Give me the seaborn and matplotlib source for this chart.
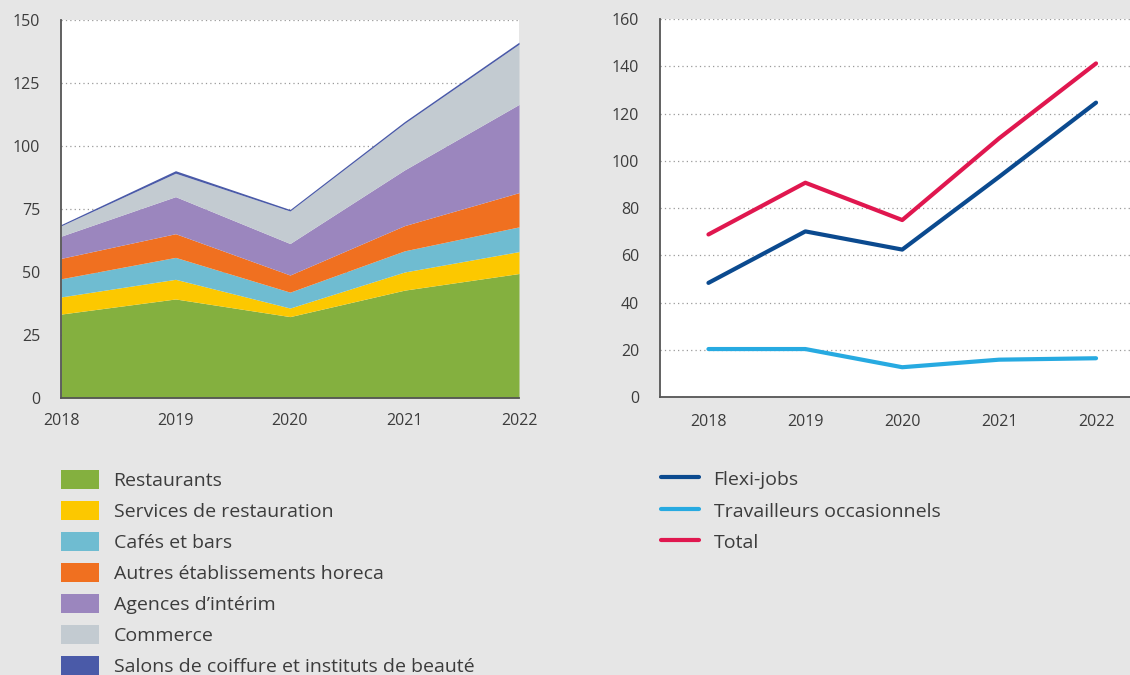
import numpy as np
import pandas as pd
import seaborn as sns
import matplotlib.pyplot as plt
from matplotlib.ticker import FixedLocator

years = [2018, 2019, 2020, 2021, 2022]

# left chart: stacked by sector (thousands)
restaurants = [33.3, 39.3, 32.3, 42.8, 49.4]
services = [6.8, 7.8, 3.4, 7.2, 8.7]
cafes = [7.2, 8.7, 6.3, 8.4, 9.8]
autres = [8.1, 9.4, 6.8, 10.0, 13.6]
agences = [8.8, 14.7, 12.5, 22.1, 35.0]
commerce = [4.1, 9.3, 12.9, 18.5, 23.9]
salons = [0.5, 1.0, 0.6, 0.7, 0.8]

sector_labels = ["Restaurants", "Services de restauration", "Cafés et bars",
                 "Autres établissements horeca", "Agences d’intérim",
                 "Commerce", "Salons de coiffure et instituts de beauté"]
sector_colors = ["#84b03f", "#fcc800", "#6fbcd1", "#f07020",
                 "#9b86be", "#c3cbd1", "#4a5aa8"]

# right chart: by status
flexi = [48.3, 70.1, 62.4, 93.2, 124.6]
occasionnels = [20.3, 20.3, 12.6, 15.8, 16.4]
total = [68.8, 90.7, 74.9, 109.5, 141.2]
line_labels = ["Flexi-jobs", "Travailleurs occasionnels", "Total"]
line_colors = ["#0b4a8f", "#27aae1", "#e0174f"]

bg = "#e6e6e6"
txt = "#3c3c3c"
axcol = "#555555"

sns.set_style("white")
plt.rcParams["font.family"] = ["Open Sans", "DejaVu Sans"]
plt.rcParams["text.color"] = txt
plt.rcParams["xtick.color"] = axcol
plt.rcParams["ytick.color"] = axcol
plt.rcParams["xtick.labelcolor"] = txt
plt.rcParams["ytick.labelcolor"] = txt

W, H = 1130, 675
fig = plt.figure(figsize=(W / 100, H / 100), dpi=100, facecolor=bg)
ax1 = fig.add_axes([61 / W, 1 - 398 / H, (519 - 61) / W, (398 - 20) / H])
ax2 = fig.add_axes([660 / W, 1 - 397 / H, (1130 - 660) / W, (397 - 19) / H])


def style_axes(ax):
    ax.set_facecolor("white")
    for s in ["top", "right"]:
        ax.spines[s].set_visible(False)
    for s in ["left", "bottom"]:
        ax.spines[s].set_color(axcol)
        ax.spines[s].set_linewidth(1.3)
    ax.set_axisbelow(True)
    ax.yaxis.grid(True, color="#9a9a9a", linestyle=(0, (1, 2.5)), linewidth=0.9)
    ax.tick_params(axis="y", direction="out", length=11, width=1.3, pad=4, labelsize=11.5)
    ax.set_xlabel("")
    ax.set_ylabel("")


# ---- left: stacked areas
stack = [restaurants, services, cafes, autres, agences, commerce, salons]
polys = ax1.stackplot(years, *stack, colors=sector_colors, linewidth=0, zorder=2)
style_axes(ax1)
ax1.set_xlim(2018, 2022)
ax1.set_ylim(0, 150)
ax1.set_yticks([0, 25, 50, 75, 100, 125, 150])
ax1.set_xticks(years)
ax1.set_xticklabels([str(y) for y in years])
ax1.tick_params(axis="x", direction="in", length=10, width=1.3, pad=11, labelsize=11.5)
ax1.xaxis.set_zorder(5)

# ---- right: lines
df = pd.DataFrame({"year": years * 3,
                   "value": flexi + occasionnels + total,
                   "serie": sum([[l] * 5 for l in line_labels], [])})
sns.lineplot(data=df, x="year", y="value", hue="serie", palette=line_colors,
             hue_order=line_labels, linewidth=3.0, ax=ax2, legend=False)
style_axes(ax2)
ax2.set_xlim(2017.5, 2018 + (1130 - 708) / 97)
ax2.set_ylim(0, 160)
ax2.set_yticks(range(0, 161, 20))
ax2.set_xticks(years)
ax2.set_xticklabels([str(y) for y in years])
ax2.xaxis.set_minor_locator(FixedLocator([2018.5, 2019.5, 2020.5, 2021.5]))
ax2.tick_params(axis="x", which="major", length=0, pad=12, labelsize=11.5)
ax2.tick_params(axis="x", which="minor", direction="in", length=10, width=1.3)
ax2.set_xlabel("")
ax2.set_ylabel("")

# ---- legends
fs = 14
fig.legend(polys, sector_labels, loc="upper left",
           bbox_to_anchor=(61 / W, 1 - 470 / H), frameon=False, fontsize=fs,
           borderpad=0, borderaxespad=0, handlelength=1.95, handleheight=1.1,
           handletextpad=0.75, labelspacing=0.57)

line_handles = [plt.Line2D([], [], color=c, linewidth=3.0) for c in line_colors]
fig.legend(line_handles, line_labels, loc="upper left",
           bbox_to_anchor=(661 / W, 1 - 469 / H), frameon=False, fontsize=fs,
           borderpad=0, borderaxespad=0, handlelength=1.95, handleheight=1.1,
           handletextpad=0.75, labelspacing=0.6)

fig.savefig("out.png", dpi=100, facecolor=bg)
